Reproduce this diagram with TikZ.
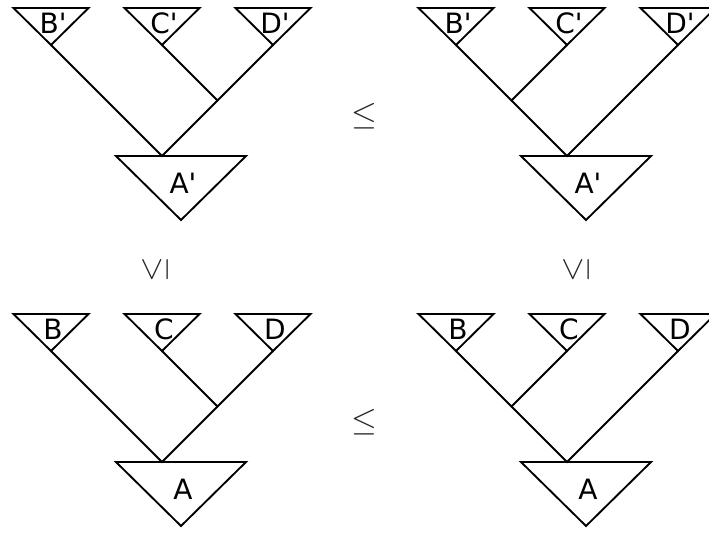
\documentclass[tikz,border=0pt]{standalone}
\usepackage{fontspec}
\newfontfamily\lblfont{DejaVu Sans}
\usetikzlibrary{calc}
\tikzset{
  edge/.style={line width=1.4pt, black},
  lbl/.style={inner sep=0pt, font=\lblfont\fontsize{21}{21}\selectfont},
  rel/.style={inner sep=0pt, text=black!85, font=\fontsize{23}{23}\selectfont},
}
% leaf triangle: #1 name of apex coordinate, #2 position, #3 label
\newcommand\leaftri[3]{%
  \coordinate (#1) at #2;
  \draw[edge] ($(#1)+(-37.5,-37)$) -- ($(#1)+(37.5,-37)$) -- (#1) -- cycle;
  \node[lbl, anchor=base] (#1lbl) at ($(#1)+(2,-12)$) {#3};
}
% root triangle: #1 name of join coordinate, #2 position, #3 label
\newcommand\roottri[3]{%
  \coordinate (#1) at #2;
  \draw[edge] ($(#1)+(-46,0)$) -- ($(#1)+(84,0)$) -- ($(#1)+(19,64)$) -- cycle;
  \node[lbl, anchor=base] (#1lbl) at ($(#1)+(21,37)$) {#3};
}
\begin{document}
\begin{tikzpicture}[x=0.75pt, y=-0.75pt]
\useasboundingbox (0,0) rectangle (709,532);
\clip (0,0) rectangle (709,532);

% ---------- top left: B'(C'D') ----------
\leaftri{tlB}{(51,45)}{B'}
\leaftri{tlC}{(162,45)}{C'}
\leaftri{tlD}{(273,45)}{D'}
\coordinate (tlJ) at (217.5,100.5);
\roottri{tlR}{(162,156)}{A'}
\draw[edge] (tlC) -- (tlJ) -- (tlD);
\draw[edge] (tlB) -- (tlR) -- (tlJ);

% ---------- top right: (B'C')D' ----------
\leaftri{trB}{(456,45)}{B'}
\leaftri{trC}{(567,45)}{C'}
\leaftri{trD}{(678,45)}{D'}
\coordinate (trJ) at (511.5,100.5);
\roottri{trR}{(567,156)}{A'}
\draw[edge] (trB) -- (trJ) -- (trC);
\draw[edge] (trJ) -- (trR) -- (trD);

% ---------- bottom left: B(CD) ----------
\leaftri{blB}{(51,351)}{B}
\leaftri{blC}{(162,351)}{C}
\leaftri{blD}{(273,351)}{D}
\coordinate (blJ) at (217.5,406.5);
\roottri{blR}{(162,462)}{A}
\draw[edge] (blC) -- (blJ) -- (blD);
\draw[edge] (blB) -- (blR) -- (blJ);

% ---------- bottom right: (BC)D ----------
\leaftri{brB}{(456,351)}{B}
\leaftri{brC}{(567,351)}{C}
\leaftri{brD}{(678,351)}{D}
\coordinate (brJ) at (511.5,406.5);
\roottri{brR}{(567,462)}{A}
\draw[edge] (brB) -- (brJ) -- (brC);
\draw[edge] (brJ) -- (brR) -- (brD);

% ---------- relations ----------
\node[rel] (relTop) at (364,116) {$\leq$};
\node[rel] (relBot) at (364,422) {$\leq$};
\node[rel, rotate=90] (relLeft) at (155,270) {$\leq$};
\node[rel, rotate=90] (relRight) at (576,270) {$\leq$};
\end{tikzpicture}
\end{document}
